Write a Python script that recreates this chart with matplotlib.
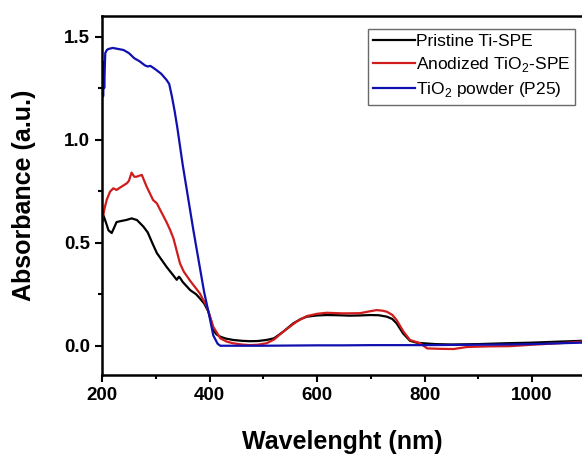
import matplotlib.pyplot as plt
from matplotlib.ticker import MultipleLocator

plt.rcParams["font.family"] = ["Liberation Sans", "DejaVu Sans"]
plt.rcParams["mathtext.fontset"] = "custom"
plt.rcParams["mathtext.rm"] = "Liberation Sans"

# Pristine Ti-SPE (black)
wl_pristine = [200, 203, 207, 212, 218, 222, 227, 235, 245, 255, 265, 277, 285,
               295, 302, 310, 320, 330, 339, 343, 345, 350, 364, 375, 382, 390,
               398, 403, 407, 413, 420, 430, 444, 460, 475, 490, 506, 520, 537,
               556, 570, 581, 600, 618, 640, 661, 680, 699, 715, 730, 740, 748,
               760, 773, 785, 798, 820, 850, 900, 950, 1000, 1050, 1093]
abs_pristine = [0.60, 0.63, 0.60, 0.56, 0.547, 0.57, 0.60, 0.605, 0.61, 0.618,
                0.61, 0.578, 0.55, 0.49, 0.45, 0.42, 0.383, 0.35, 0.32, 0.335,
                0.33, 0.31, 0.27, 0.25, 0.23, 0.205, 0.165, 0.12, 0.076, 0.055,
                0.044, 0.035, 0.028, 0.024, 0.022, 0.023, 0.028, 0.036, 0.068,
                0.109, 0.13, 0.141, 0.147, 0.149, 0.148, 0.146, 0.147, 0.149,
                0.148, 0.141, 0.13, 0.109, 0.06, 0.024, 0.015, 0.012, 0.008,
                0.006, 0.008, 0.012, 0.015, 0.02, 0.024]

# Anodized TiO2-SPE (red)
wl_anodized = [200, 205, 209, 215, 221, 227, 235, 246, 250, 255, 260, 264, 274,
               283, 295, 302, 310, 320, 327, 333, 340, 345, 352, 364, 382, 395,
               407, 420, 432, 444, 460, 475, 490, 506, 520, 537, 562, 581, 600,
               618, 649, 680, 700, 711, 722, 730, 740, 748, 761, 773, 792, 805,
               830, 854, 879, 920, 959, 1000, 1050, 1093]
abs_anodized = [0.60, 0.67, 0.71, 0.748, 0.764, 0.756, 0.77, 0.788, 0.80, 0.84,
                0.82, 0.82, 0.829, 0.772, 0.707, 0.691, 0.65, 0.60, 0.56, 0.52,
                0.45, 0.40, 0.36, 0.315, 0.254, 0.19, 0.092, 0.036, 0.02, 0.012,
                0.006, 0.003, 0.005, 0.012, 0.03, 0.068, 0.117, 0.144, 0.155,
                0.16, 0.157, 0.158, 0.168, 0.173, 0.17, 0.165, 0.15, 0.125,
                0.068, 0.028, 0.012, -0.013, -0.015, -0.016, -0.006, -0.003,
                -0.002, 0.005, 0.012, 0.02]

# TiO2 powder P25 (blue)
wl_p25 = [200, 201, 202, 203, 204, 206, 209, 212, 220, 230, 240, 250, 260, 270,
          280, 285, 290, 300, 310, 320, 325, 330, 335, 340, 350, 360, 370, 380,
          390, 400, 407, 415, 420, 450, 500, 550, 600, 650, 700, 750, 800, 850,
          900, 950, 1000, 1050, 1093]
abs_p25 = [1.32, 1.38, 1.21, 1.36, 1.25, 1.42, 1.435, 1.44, 1.445, 1.44, 1.435,
           1.42, 1.395, 1.38, 1.36, 1.355, 1.358, 1.34, 1.32, 1.29, 1.27, 1.21,
           1.14, 1.06, 0.88, 0.72, 0.56, 0.41, 0.26, 0.14, 0.05, 0.01, 0.0,
           0.0, 0.0, 0.001, 0.002, 0.002, 0.003, 0.003, 0.003, 0.004, 0.005,
           0.006, 0.008, 0.012, 0.015]

fig = plt.figure(figsize=(5.82, 4.57), dpi=100)
ax = fig.add_axes([0.1753, 0.1794, 0.8247, 0.7856])

ax.plot(wl_pristine, abs_pristine, color="black", lw=1.6, label="Pristine Ti-SPE")
ax.plot(wl_anodized, abs_anodized, color="#d01c1c", lw=1.6,
        label=r"Anodized TiO$_2$-SPE")
ax.plot(wl_p25, abs_p25, color="#1010b0", lw=1.6, label=r"TiO$_2$ powder (P25)")

ax.set_xlim(200, 1093)
ax.set_ylim(-0.142, 1.60)
ax.xaxis.set_major_locator(MultipleLocator(200))
ax.xaxis.set_minor_locator(MultipleLocator(100))
ax.yaxis.set_major_locator(MultipleLocator(0.5))
ax.yaxis.set_minor_locator(MultipleLocator(0.25))

ax.spines["right"].set_visible(False)
for side in ["left", "bottom", "top"]:
    ax.spines[side].set_linewidth(1.8)
ax.tick_params(which="major", direction="out", length=5, width=1.5,
               labelsize=13.5)
ax.tick_params(which="minor", direction="out", length=3, width=1.5)
for lbl in ax.get_xticklabels() + ax.get_yticklabels():
    lbl.set_fontweight("bold")

ax.set_xlabel("Wavelenght (nm)", fontsize=18, fontweight="bold", labelpad=19)
ax.set_ylabel("Absorbance (a.u.)", fontsize=18, fontweight="bold", labelpad=20)

leg = ax.legend(loc="upper right", bbox_to_anchor=(0.9858, 0.964),
                fontsize=12.5, frameon=True, fancybox=False, handlelength=2.4,
                handletextpad=0.05, borderpad=0.3, labelspacing=0.35,
                borderaxespad=0)
leg.get_frame().set_edgecolor("#444444")
leg.get_frame().set_linewidth(1.0)

fig.savefig("out.png", dpi=100)
